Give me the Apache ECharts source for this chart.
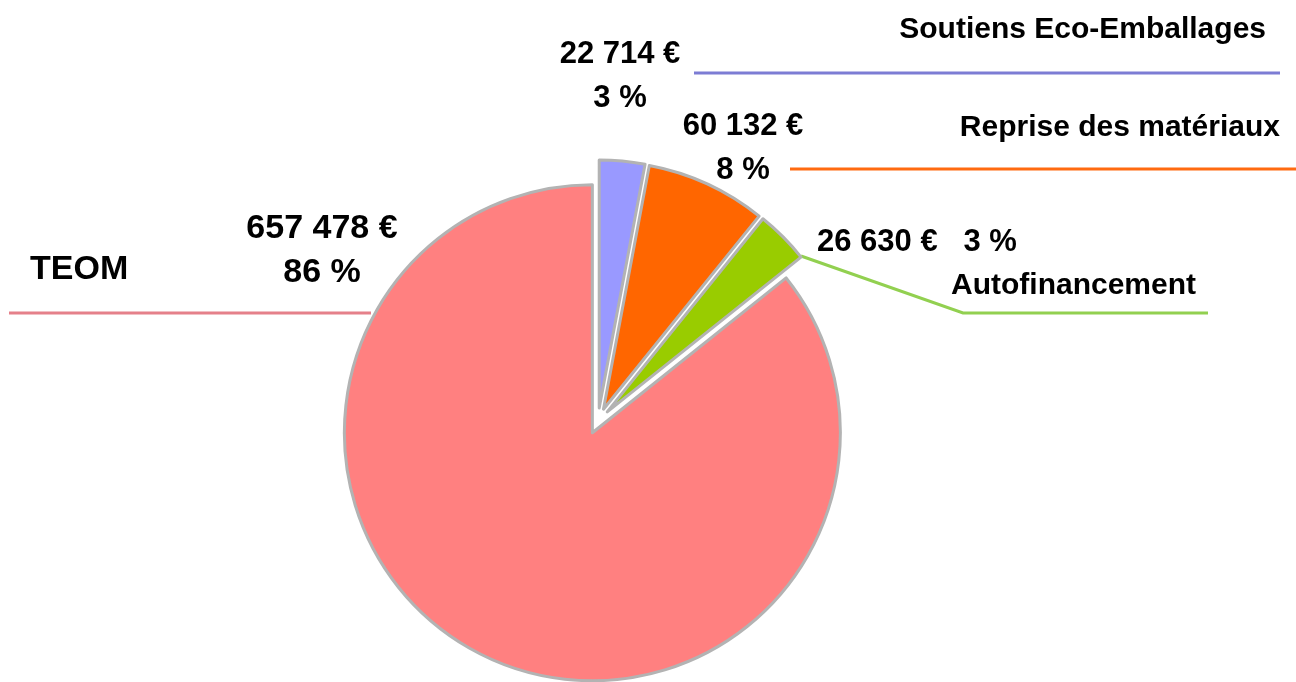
<!DOCTYPE html>
<html>
<head>
<meta charset="utf-8">
<script src="https://cdn.jsdelivr.net/npm/echarts@6/dist/echarts.min.js"></script>
<style>
html, body { margin: 0; padding: 0; background: #fff; }
#chart { width: 1296px; height: 682px; }
</style>
</head>
<body>
<div id="chart"></div>
<script>
const names = ['Soutiens Eco-Emballages', 'Reprise des matériaux', 'Autofinancement', 'TEOM']
const amounts = [22714, 60132, 26630, 657478]
const sliceColors = ['#9999ff', '#ff6600', '#99cc00', '#ff8080']
const lineColors = ['#7c7cd4', '#ff6a10', '#92d050', '#e5808a']

// where the labels sit (px)
const valuePos = [
    { x: 620, y: 76, align: 'center', fontSize: 31 },
    { x: 743, y: 148, align: 'center', fontSize: 31 },
    { x: 817, y: 242, align: 'left', fontSize: 31 },
    { x: 322, y: 251, align: 'center', fontSize: 34 }
]
const namePos = [
    { x: 1266, y: 30, align: 'right', fontSize: 30, line: [[694, 73], [694, 73], [1280, 73]] },
    { x: 1280, y: 128, align: 'right', fontSize: 30, line: [[790, 169], [790, 169], [1296, 169]] },
    { x: 951, y: 286, align: 'left', fontSize: 30, line: [[801, 256], [963, 313], [1208, 313]] },
    { x: 30, y: 270, align: 'left', fontSize: 34, line: [[371, 313], [371, 313], [9, 313]] }
]

const font = "'Liberation Sans', Arial, sans-serif"

function euro (v) {
    return String(v).replace(/\B(?=(\d{3})+(?!\d))/g, ' ') + ' €'
}

const base = {
    type: 'pie',
    center: [598, 421],
    radius: 248,
    startAngle: 90,
    clockwise: true,
    avoidLabelOverlap: false,
    percentPrecision: 0,
    animation: false
}

const hidden = {
    silent: true,
    itemStyle: { color: 'rgba(0,0,0,0)', borderWidth: 0 },
    emphasis: { disabled: true }
}

const chart = echarts.init(document.getElementById('chart'))
chart.setOption({
    backgroundColor: '#fff',
    series: [
        {
            ...base,
            name: 'slices',
            selectedMode: 'multiple',
            selectedOffset: 13,
            emphasis: { disabled: true },
            label: { show: false },
            labelLine: { show: false },
            data: names.map((n, i) => ({
                name: n,
                value: amounts[i],
                selected: true,
                itemStyle: { color: sliceColors[i], borderColor: '#b3b3b3', borderWidth: 3 }
            }))
        },
        {
            ...base,
            ...hidden,
            name: 'names',
            label: {
                show: true,
                position: 'outside',
                overflow: 'none',
                formatter: '{b}',
                color: '#000',
                fontWeight: 'bold',
                fontFamily: font,
                fontSize: 30
            },
            labelLine: { show: true, smooth: false, lineStyle: { width: 3 } },
            labelLayout (p) {
                const pos = namePos[p.dataIndex]
                return {
                    x: pos.x,
                    y: pos.y,
                    align: pos.align,
                    verticalAlign: 'middle',
                    fontSize: pos.fontSize,
                    labelLinePoints: pos.line
                }
            },
            data: names.map((n, i) => ({
                name: n,
                value: amounts[i],
                labelLine: { lineStyle: { color: lineColors[i] } }
            }))
        },
        {
            ...base,
            ...hidden,
            name: 'values',
            label: {
                show: true,
                position: 'outside',
                overflow: 'none',
                color: '#000',
                fontWeight: 'bold',
                fontFamily: font,
                fontSize: 31,
                lineHeight: 44,
                formatter (p) {
                    if (p.dataIndex === 2) return euro(p.value) + '   ' + p.percent + ' %'
                    return euro(p.value) + '\n' + p.percent + ' %'
                }
            },
            labelLine: { show: false },
            labelLayout (p) {
                const pos = valuePos[p.dataIndex]
                return {
                    x: pos.x,
                    y: pos.y,
                    align: pos.align,
                    verticalAlign: 'middle',
                    fontSize: pos.fontSize
                }
            },
            data: names.map((n, i) => ({ name: n, value: amounts[i] }))
        }
    ]
})
</script>
</body>
</html>
